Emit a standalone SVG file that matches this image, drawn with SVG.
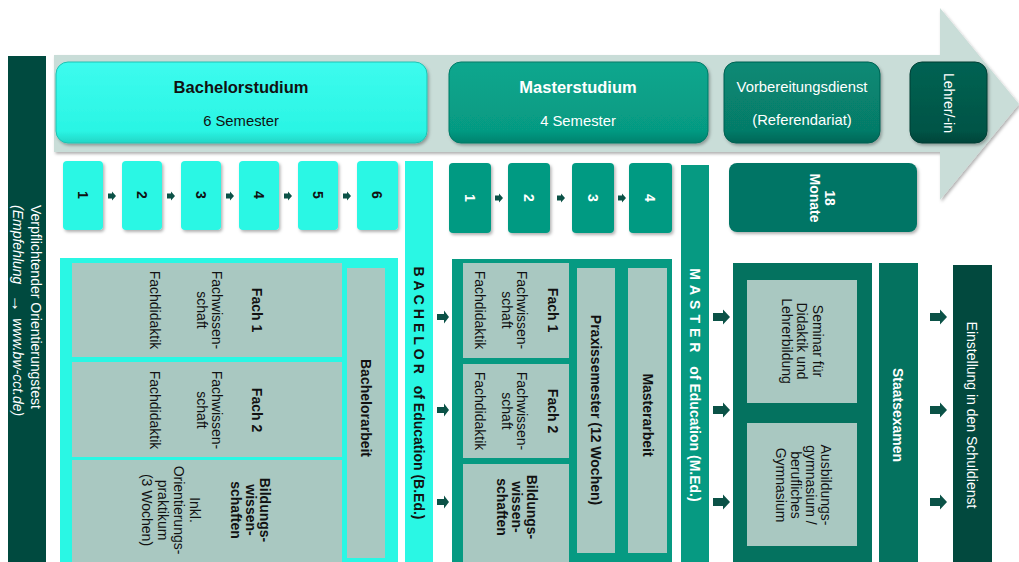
<svg xmlns="http://www.w3.org/2000/svg" width="1019" height="562" viewBox="0 0 1019 562">
<defs>
<style>
text{font-family:"Liberation Sans",Arial,sans-serif;font-size:14px;fill:#111}
.b{font-weight:bold}
.w{fill:#fff}
.c{text-anchor:middle;dominant-baseline:central}
.h{font-size:16.5px;font-weight:bold;text-anchor:middle}
.n{font-size:14.8px;text-anchor:middle}
.cy{fill:#2af7e4}
.gr{fill:#a9c8c1}
.tl{fill:#069a82}
.dk{fill:#04725f}
.ar{fill:#0b5247}
</style>
<filter id="sh" x="-10%" y="-10%" width="130%" height="130%"><feDropShadow dx="1.5" dy="2" stdDeviation="1.5" flood-color="#000" flood-opacity="0.3"/></filter>
<linearGradient id="gCy" x1="0" y1="0" x2="0" y2="1"><stop offset="0" stop-color="#3dfbee"/><stop offset="0.85" stop-color="#2af5e4"/><stop offset="1" stop-color="#22d6c6"/></linearGradient>
<linearGradient id="gTl" x1="0" y1="0" x2="0" y2="1"><stop offset="0" stop-color="#0aa78e"/><stop offset="0.85" stop-color="#069a82"/><stop offset="1" stop-color="#05826e"/></linearGradient>
<linearGradient id="gVb" x1="0" y1="0" x2="0" y2="1"><stop offset="0" stop-color="#088a75"/><stop offset="0.85" stop-color="#067b68"/><stop offset="1" stop-color="#046656"/></linearGradient>
<linearGradient id="gLe" x1="0" y1="0" x2="0" y2="1"><stop offset="0" stop-color="#066353"/><stop offset="0.85" stop-color="#045446"/><stop offset="1" stop-color="#03453a"/></linearGradient>
<path id="a1" d="M0,-2.5H4V-4.5L8,0L4,4.5V2.5H0Z"/>
<path id="a2" d="M0,-3H7V-6.5L12,0L7,6.5V3H0Z"/>
<path id="a3" d="M0,-4H10V-7.5L17,0L10,7.5V4H0Z"/>
</defs>
<rect width="1019" height="562" fill="#fff"/>

<g id="band">
<polygon points="54,55 940,55 940,8 1019,104 940,200 940,152 54,152" fill="#c9ddd8" filter="url(#sh)"/>
</g>

<g id="orientierungstest">
<rect x="8" y="56" width="38" height="510" fill="#004a3f"/>
<text class="w" font-size="15.6" dominant-baseline="central" transform="translate(36 205) rotate(90)">Verpflichtender Orientierungstest</text>
<text class="w" font-size="15.6" dominant-baseline="central" font-style="italic" transform="translate(18 205) rotate(90)">(Empfehlung <tspan dx="6" font-size="18" font-weight="bold" font-style="normal">→</tspan><tspan dx="2"> www.bw-cct.de)</tspan></text>
</g>

<g id="bachelorstudium">
<rect x="56" y="62" width="371" height="81" rx="12" fill="url(#gCy)" stroke="#1fc2b3" stroke-width="1" filter="url(#sh)"/>
<text class="h" x="241" y="93">Bachelorstudium</text>
<text class="n" x="241" y="126">6 Semester</text>
</g>
<g id="masterstudium">
<rect x="449" y="62" width="259" height="81" rx="12" fill="url(#gTl)" stroke="#057a67" stroke-width="1" filter="url(#sh)"/>
<text class="h w" x="578" y="93">Masterstudium</text>
<text class="n w" x="578" y="126">4 Semester</text>
</g>
<g id="vorbereitungsdienst">
<rect x="724" y="62" width="156" height="81" rx="12" fill="url(#gVb)" stroke="#046152" stroke-width="1" filter="url(#sh)"/>
<text class="n w" x="802" y="92">Vorbereitungsdienst</text>
<text class="n w" x="802" y="125">(Referendariat)</text>
</g>
<g id="lehrer">
<rect x="910" y="62" width="77" height="81" rx="12" fill="url(#gLe)" stroke="#033f35" stroke-width="1" filter="url(#sh)"/>
<text class="c w" font-size="14.3" transform="translate(949 103) rotate(90)">Lehrer/-in</text>
</g>

<g id="bsem">
<rect x="63" y="161" width="40" height="69" rx="4" class="cy" filter="url(#sh)"/>
<rect x="122" y="161" width="40" height="69" rx="4" class="cy" filter="url(#sh)"/>
<rect x="181" y="161" width="40" height="69" rx="4" class="cy" filter="url(#sh)"/>
<rect x="239" y="161" width="40" height="69" rx="4" class="cy" filter="url(#sh)"/>
<rect x="298" y="161" width="40" height="69" rx="4" class="cy" filter="url(#sh)"/>
<rect x="357" y="161" width="41" height="69" rx="4" class="cy" filter="url(#sh)"/>
<text class="c b" font-size="15.5" transform="translate(83 195) rotate(90)">1</text>
<text class="c b" font-size="15.5" transform="translate(142 195) rotate(90)">2</text>
<text class="c b" font-size="15.5" transform="translate(201 195) rotate(90)">3</text>
<text class="c b" font-size="15.5" transform="translate(259 195) rotate(90)">4</text>
<text class="c b" font-size="15.5" transform="translate(318 195) rotate(90)">5</text>
<text class="c b" font-size="15.5" transform="translate(377 195) rotate(90)">6</text>
</g>

<g id="msem">
<rect x="449" y="163" width="42" height="70" rx="4" class="tl" filter="url(#sh)"/>
<rect x="508" y="163" width="42" height="70" rx="4" class="tl" filter="url(#sh)"/>
<rect x="572" y="163" width="42" height="70" rx="4" class="tl" filter="url(#sh)"/>
<rect x="629" y="163" width="43" height="70" rx="4" class="tl" filter="url(#sh)"/>
<text class="c b w" font-size="15.5" transform="translate(470 198) rotate(90)">1</text>
<text class="c b w" font-size="15.5" transform="translate(529 198) rotate(90)">2</text>
<text class="c b w" font-size="15.5" transform="translate(593 198) rotate(90)">3</text>
<text class="c b w" font-size="15.5" transform="translate(650 198) rotate(90)">4</text>
</g>

<g id="monate">
<rect x="729" y="163" width="188" height="69" rx="8" fill="#047565" filter="url(#sh)"/>
<text class="c b w" font-size="15" transform="translate(830 198) rotate(90)">18</text>
<text class="c b w" font-size="15" transform="translate(815 198) rotate(90)">Monate</text>
</g>

<g id="bed">
<rect x="405" y="161" width="28" height="405" class="cy"/>
<text class="b" font-size="13.5" dominant-baseline="central" text-anchor="middle" transform="translate(419 393) rotate(90)"><tspan letter-spacing="4">BACHELOR </tspan>of Education (B.Ed.)</text>
</g>

<g id="bachelor-inhalt">
<rect x="60" y="258" width="338" height="310" class="cy"/>
<rect x="72" y="263" width="270" height="94" class="gr"/>
<rect x="72" y="362" width="270" height="95" class="gr"/>
<rect x="72" y="460" width="270" height="110" class="gr"/>
<rect x="347" y="268" width="38" height="290" class="gr"/>
<text class="c b" transform="translate(257 310) rotate(90)">Fach 1</text>
<text class="c" transform="translate(217 310) rotate(90)">Fachwissen-</text>
<text class="c" transform="translate(202 310) rotate(90)">schaft</text>
<text class="c" transform="translate(155 310) rotate(90)">Fachdidaktik</text>
<text class="c b" transform="translate(257 410) rotate(90)">Fach 2</text>
<text class="c" transform="translate(217 410) rotate(90)">Fachwissen-</text>
<text class="c" transform="translate(202 410) rotate(90)">schaft</text>
<text class="c" transform="translate(155 410) rotate(90)">Fachdidaktik</text>
<text class="c b" transform="translate(265 510) rotate(90)">Bildungs-</text>
<text class="c b" transform="translate(251 510) rotate(90)">wissen-</text>
<text class="c b" transform="translate(236 510) rotate(90)">schaften</text>
<text class="c" transform="translate(195 510) rotate(90)">Inkl.</text>
<text class="c" transform="translate(179 510) rotate(90)">Orientierungs-</text>
<text class="c" transform="translate(163 510) rotate(90)">praktikum</text>
<text class="c" transform="translate(147 510) rotate(90)">(3 Wochen)</text>
<text class="c b" transform="translate(366 408) rotate(90)">Bachelorarbeit</text>
</g>

<g id="master-inhalt">
<rect x="452" y="259" width="220" height="310" class="tl"/>
<rect x="463" y="263" width="106" height="95" class="gr"/>
<rect x="463" y="364" width="106" height="94" class="gr"/>
<rect x="463" y="464" width="106" height="105" class="gr"/>
<rect x="577" y="268" width="38" height="285" class="gr"/>
<rect x="628" y="268" width="39" height="285" class="gr"/>
<text class="c b" transform="translate(553 310) rotate(90)">Fach 1</text>
<text class="c" transform="translate(522 310) rotate(90)">Fachwissen-</text>
<text class="c" transform="translate(507 310) rotate(90)">schaft</text>
<text class="c" transform="translate(480 310) rotate(90)">Fachdidaktik</text>
<text class="c b" transform="translate(553 411) rotate(90)">Fach 2</text>
<text class="c" transform="translate(522 411) rotate(90)">Fachwissen-</text>
<text class="c" transform="translate(507 411) rotate(90)">schaft</text>
<text class="c" transform="translate(480 411) rotate(90)">Fachdidaktik</text>
<text class="c b" transform="translate(532 507) rotate(90)">Bildungs-</text>
<text class="c b" transform="translate(517 507) rotate(90)">wissen-</text>
<text class="c b" transform="translate(502 507) rotate(90)">schaften</text>
<text class="c b" transform="translate(596 410) rotate(90)">Praxissemester (12 Wochen)</text>
<text class="c b" transform="translate(648 415) rotate(90)">Masterarbeit</text>
</g>

<g id="med">
<rect x="681" y="165" width="28" height="401" class="tl"/>
<text class="b w" font-size="13.5" dominant-baseline="central" text-anchor="middle" transform="translate(695 385) rotate(90)"><tspan letter-spacing="5">MASTER </tspan>of Education (M.Ed.)</text>
</g>

<g id="referendariat">
<rect x="733" y="263" width="139" height="305" class="dk"/>
<rect x="747" y="280" width="110" height="123" class="gr"/>
<rect x="747" y="423" width="110" height="123" class="gr"/>
<text class="c" transform="translate(818 341) rotate(90)">Seminar für</text>
<text class="c" transform="translate(802 341) rotate(90)">Didaktik und</text>
<text class="c" transform="translate(787 341) rotate(90)">Lehrerbildung</text>
<text class="c" transform="translate(826 485) rotate(90)">Ausbildungs-</text>
<text class="c" transform="translate(811 485) rotate(90)">gymnasium /</text>
<text class="c" transform="translate(796 485) rotate(90)">berufliches</text>
<text class="c" transform="translate(781 485) rotate(90)">Gymnasium</text>
</g>

<g id="staatsexamen">
<rect x="879" y="263" width="39" height="305" class="dk"/>
<text class="c b w" transform="translate(898 415) rotate(90)">Staatsexamen</text>
</g>

<g id="einstellung">
<rect x="953" y="265" width="39" height="305" fill="#02493e"/>
<text class="c w" transform="translate(972 415) rotate(90)">Einstellung in den Schuldienst</text>
</g>

<g id="connectors" class="ar">
<use href="#a1" x="108" y="196"/>
<use href="#a1" x="167" y="196"/>
<use href="#a1" x="226" y="196"/>
<use href="#a1" x="284" y="196"/>
<use href="#a1" x="343" y="196"/>
<use href="#a1" x="495" y="198"/>
<use href="#a1" x="557" y="198"/>
<use href="#a1" x="618" y="198"/>
<use href="#a2" x="437" y="317"/>
<use href="#a2" x="437" y="410"/>
<use href="#a2" x="437" y="502"/>
<use href="#a3" x="713" y="317"/>
<use href="#a3" x="713" y="410"/>
<use href="#a3" x="713" y="502"/>
<use href="#a3" x="930" y="317"/>
<use href="#a3" x="930" y="410"/>
<use href="#a3" x="930" y="502"/>
</g>
</svg>
